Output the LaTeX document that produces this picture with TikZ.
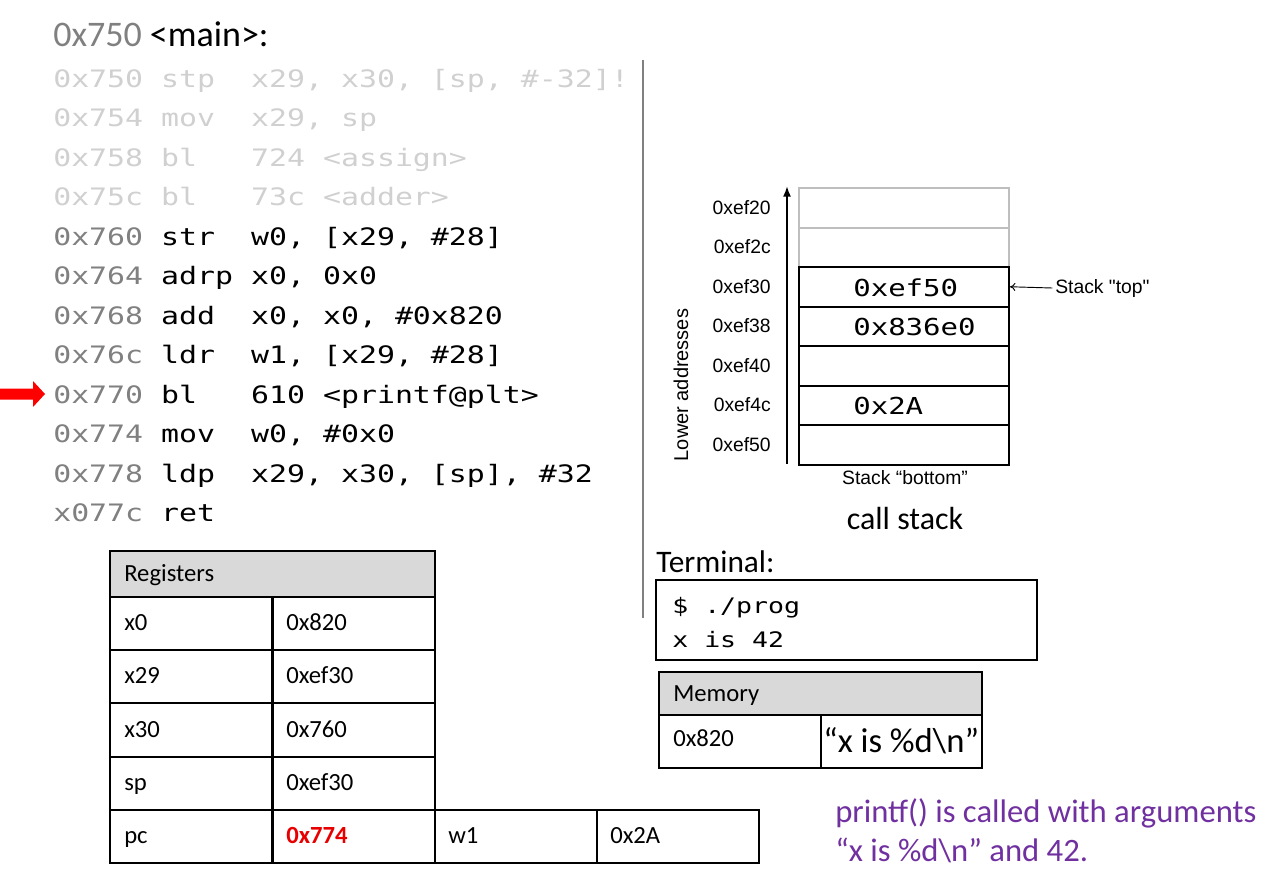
\documentclass[tikz,border=0pt]{standalone}
\usepackage{fontspec}
\setmainfont{Carlito}
\newfontfamily\codefont[FakeStretch=1.245]{DejaVu Sans Mono}
\newfontfamily\arialfont{Liberation Sans}
\usetikzlibrary{arrows.meta}
\definecolor{faded}{RGB}{208,208,208}
\definecolor{addrgray}{RGB}{128,128,128}
\definecolor{hdrgray}{RGB}{217,217,217}
\definecolor{cellgray}{RGB}{190,190,190}
\definecolor{purp}{RGB}{112,48,160}
\definecolor{pcred}{RGB}{232,0,0}
\newlength\cw
\setlength\cw{13.49pt}
\newcommand\asmline[4]{{\color{#1}\makebox[6\cw][l]{#2}}\makebox[5\cw][l]{#3}#4}
\tikzset{
  txt/.style={inner sep=0pt, anchor=base west},
  code/.style={txt, font=\codefont\fontsize{18}{20}\selectfont},
  fadedcode/.style={code, text=faded},
  slabel/.style={inner sep=0pt, anchor=base east, font=\arialfont\fontsize{14.5}{16}\selectfont},
  sval/.style={txt, font=\codefont\fontsize{17.5}{19}\selectfont},
  cell/.style={draw, line width=1.5pt, minimum width=157.5pt, minimum height=29.625pt, inner sep=0pt},
  greycell/.style={cell, draw=cellgray},
  rcell/.style={draw, line width=1.5pt, minimum width=121.5pt, minimum height=39.9pt, inner sep=0pt},
  rtxt/.style={txt, font=\fontsize{18.5}{20}\selectfont},
  term/.style={txt, font=\codefont\fontsize{16}{18}\selectfont},
  note/.style={txt, text=purp, font=\fontsize{24.5}{27}\selectfont}
}
\begin{document}
\begin{tikzpicture}[x=0.75pt, y=-0.75pt]
\useasboundingbox (0,0) rectangle (1280,890);

% ---- code listing ----
\node[txt, font=\fontsize{27}{30}\selectfont] (hdr) at (53,46) {{\color{addrgray}0x750} <main>:};
\node[fadedcode] (c0) at (53,87)    {\asmline{faded}{0x750}{stp}{x29, x30, [sp, \#-32]!}};
\node[fadedcode] (c1) at (53,126.5) {\asmline{faded}{0x754}{mov}{x29, sp}};
\node[fadedcode] (c2) at (53,166)   {\asmline{faded}{0x758}{bl}{724 <assign>}};
\node[fadedcode] (c3) at (53,205.5) {\asmline{faded}{0x75c}{bl}{73c <adder>}};
\node[code] (c4) at (53,245)   {\asmline{addrgray}{0x760}{str}{w0, [x29, \#28]}};
\node[code] (c5) at (53,284.5) {\asmline{addrgray}{0x764}{adrp}{x0, 0x0}};
\node[code] (c6) at (53,324)   {\asmline{addrgray}{0x768}{add}{x0, x0, \#0x820}};
\node[code] (c7) at (53,363.5) {\asmline{addrgray}{0x76c}{ldr}{w1, [x29, \#28]}};
\node[code] (c8) at (53,403)   {\asmline{addrgray}{0x770}{bl}{610 <printf@plt>}};
\node[code] (c9) at (53,442.5) {\asmline{addrgray}{0x774}{mov}{w0, \#0x0}};
\node[code] (c10) at (53,482)  {\asmline{addrgray}{0x778}{ldp}{x29, x30, [sp], \#32}};
\node[code] (c11) at (53,521.5){\asmline{addrgray}{x077c}{ret}{}};

% current-instruction arrow
\fill[red] (0,388.5) -- (33,388.5) -- (33,381) -- (45,394) -- (33,407) -- (33,399.5) -- (0,399.5) -- cycle;

% divider
\coordinate (dtop) at (643,60);
\coordinate (dbot) at (643,618);
\draw[addrgray, line width=0.9pt] (dtop) -- (dbot);

% ---- call stack ----
\node[greycell] (s0) at (904,207.75) {};
\node[greycell] (s1) at (904,247.25) {};
\node[cell] (s2) at (904,286.75) {};
\node[cell] (s3) at (904,326.25) {};
\node[cell] (s4) at (904,365.75) {};
\node[cell] (s5) at (904,405.25) {};
\node[cell] (s6) at (904,444.75) {};

\node[sval] (v2) at (853,296) {0xef50};
\node[sval] (v3) at (853,335.5) {0x836e0};
\node[sval] (v5) at (853,414.5) {0x2A};

\node[slabel] (l0) at (771,214) {0xef20};
\node[slabel] (l1) at (771,253.5) {0xef2c};
\node[slabel] (l2) at (771,293) {0xef30};
\node[slabel] (l3) at (771,332.5) {0xef38};
\node[slabel] (l4) at (771,372) {0xef40};
\node[slabel] (l5) at (771,411.5) {0xef4c};
\node[slabel] (l6) at (771,451) {0xef50};

\coordinate (abot) at (787,464);
\coordinate (atop) at (787,186);
\draw[line width=1.3pt, -{Latex[length=8pt,width=6pt]}] (abot) -- (atop);

\node[rotate=90, inner sep=0pt, font=\arialfont\fontsize{15}{16}\selectfont] (lower) at (681,385) {Lower addresses};

\node[txt, font=\arialfont\fontsize{14.5}{16}\selectfont] (stop) at (1055,293) {Stack "top"};
\draw[line width=0.7pt, -{To[length=4pt,width=6pt]}] ([xshift=-2pt]stop.west) -- (s2.east);

\node[inner sep=0pt, anchor=base, font=\arialfont\fontsize{14.5}{16}\selectfont] (sbot) at (905,484) {Stack “bottom”};
\node[inner sep=0pt, anchor=base, font=\fontsize{24}{26}\selectfont] (cstack) at (905,529) {call stack};

% ---- registers ----
\node[rcell, fill=hdrgray, minimum width=243.75pt, minimum height=34.5pt] (rh) at (272.5,574) {};
\node[rcell] (r1a) at (191,623.6) {};
\node[rcell] (r1b) at (353.5,623.6) {};
\node[rcell] (r2a) at (191,676.8) {};
\node[rcell] (r2b) at (353.5,676.8) {};
\node[rcell] (r3a) at (191,730) {};
\node[rcell] (r3b) at (353.5,730) {};
\node[rcell] (r4a) at (191,783.2) {};
\node[rcell] (r4b) at (353.5,783.2) {};
\node[rcell] (r5a) at (191,836.4) {};
\node[rcell] (r5b) at (353.5,836.4) {};
\node[rcell] (r5c) at (516,836.4) {};
\node[rcell] (r5d) at (677.5,836.4) {};

\node[rtxt] (trh) at (124,581) {Registers};
\node[rtxt] (t1a) at (124,630.6) {x0};
\node[rtxt] (t1b) at (286,630.6) {0x820};
\node[rtxt] (t2a) at (124,683.8) {x29};
\node[rtxt] (t2b) at (286,683.8) {0xef30};
\node[rtxt] (t3a) at (124,737) {x30};
\node[rtxt] (t3b) at (286,737) {0x760};
\node[rtxt] (t4a) at (124,790.2) {sp};
\node[rtxt] (t4b) at (286,790.2) {0xef30};
\node[rtxt] (t5a) at (124,843.4) {pc};
\node[rtxt, text=pcred, font=\bfseries\fontsize{18.5}{20}\selectfont] (t5b) at (286,843.4) {0x774};
\node[rtxt] (t5c) at (448,843.4) {w1};
\node[rtxt] (t5d) at (610,843.4) {0x2A};

% ---- terminal ----
\node[txt, font=\fontsize{23.5}{26}\selectfont] (termlbl) at (656,572) {Terminal:};
\node[draw, line width=1.5pt, minimum width=285.75pt, minimum height=60pt, inner sep=0pt] (termbox) at (846.5,620) {};
\node[term] (term1) at (672,613) {\$ ./prog};
\node[term] (term2) at (672,647) {x is 42};

% ---- memory ----
\node[rcell, fill=hdrgray, minimum width=242.25pt, minimum height=32.25pt] (mh) at (820.5,693.5) {};
\node[rcell, minimum height=39.75pt] (m1a) at (740,741.5) {};
\node[rcell, minimum width=120.75pt, minimum height=39.75pt] (m1b) at (901.5,741.5) {};
\node[rtxt] (tmh) at (673,701) {Memory};
\node[rtxt] (tm1a) at (673,746) {0x820};
\node[txt, font=\fontsize{26}{28}\selectfont] (tm1b) at (823,752) {“x is \%d\textbackslash n”};

% ---- note ----
\node[note] (note1) at (835,822) {printf() is called with arguments};
\node[note] (note2) at (835,861) {“x is \%d\textbackslash n” and 42.};
\end{tikzpicture}
\end{document}
